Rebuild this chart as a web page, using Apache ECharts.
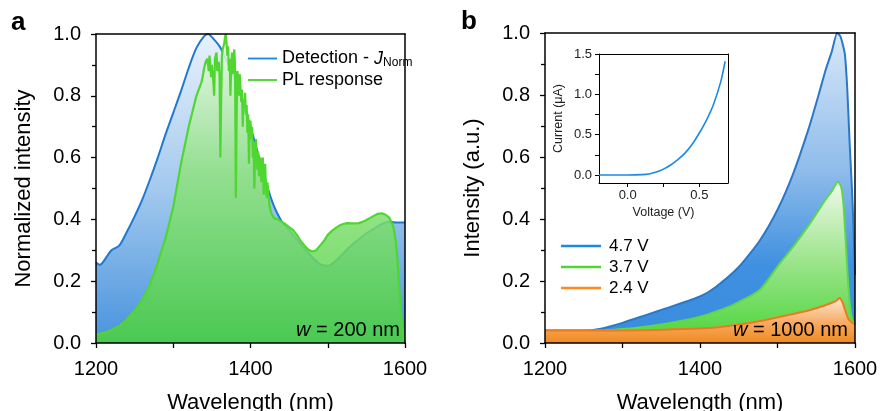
<!DOCTYPE html>
<html><head><meta charset="utf-8">
<script src="https://cdn.jsdelivr.net/npm/echarts@6/dist/echarts.min.js"></script>
<style>html,body{margin:0;padding:0;background:#fff}#c{width:880px;height:411px}</style>
</head><body><div id="c"></div>
<script>
// ---------- Panel a ----------
const detWl  = [1200,1205,1210,1220,1230,1240,1250,1260,1270,1280,1290,1300,1310,1320,1330,1340,1345,1350,1360,1370,1380,1390,1400,1410,1420,1430,1440,1450,1460,1470,1480,1490,1500,1510,1520,1530,1540,1550,1560,1570,1580,1590,1600];
const detVal = [0.26,0.253,0.265,0.30,0.315,0.36,0.41,0.465,0.53,0.60,0.675,0.745,0.815,0.89,0.955,0.993,1.0,0.99,0.96,0.91,0.85,0.78,0.70,0.61,0.52,0.445,0.395,0.365,0.335,0.305,0.278,0.255,0.25,0.265,0.29,0.315,0.335,0.355,0.37,0.385,0.392,0.39,0.39];

const plWl  = [1200,1210,1220,1230,1240,1250,1260,1270,1280,1290,1300,1310,1320,1330,1336,
  1338,1340,1342,1344,1346,1347,1349,1350,1352,1353,1354,1356,1357,1359,1360,1361,1362,1363,1364,1366,1367,1368,1369,1370,
  1371,1372,1373,1374,1375,1376,1377,1378,1379,1380,1381,1382,1383,1384,1385,1386,1387,1388,1389,1390,
  1391,1392,1393,1394,1395,1396,1397,1398,1399,1400,1401,1402,1403,1404,1405,1406,1407,1408,1409,1410,
  1411,1412,1413,1414,1415,1416,1417,1418,1419,1420,1421,1422,1423,1424,1425,1427,1430,
  1435,1440,1445,1450,1455,1460,1465,1470,1475,1480,1485,1490,1495,1500,1505,1510,1515,1520,1525,1530,1535,1540,1545,1550,1555,1560,1565,1570,1575,1580,1585,1588,1590,1592,1594,1596,1598,1600];
const plVal = [0.027,0.033,0.042,0.055,0.076,0.105,0.14,0.19,0.26,0.34,0.44,0.58,0.70,0.80,0.84,
  0.86,0.89,0.91,0.92,0.88,0.93,0.86,0.90,0.84,0.80,0.92,0.94,0.88,0.91,0.86,0.60,0.78,0.93,0.95,0.97,0.99,1.00,0.97,0.93,
  0.96,0.88,0.92,0.80,0.90,0.94,0.87,0.92,0.95,0.90,0.47,0.72,0.88,0.86,0.80,0.87,0.83,0.78,0.82,0.70,
  0.79,0.76,0.81,0.74,0.77,0.68,0.74,0.58,0.70,0.72,0.66,0.70,0.60,0.65,0.50,0.62,0.66,0.60,0.56,0.62,
  0.54,0.58,0.60,0.52,0.57,0.60,0.48,0.55,0.58,0.50,0.47,0.52,0.48,0.46,0.44,0.42,0.405,
  0.40,0.393,0.385,0.375,0.366,0.35,0.33,0.315,0.302,0.296,0.30,0.315,0.33,0.35,0.362,0.372,0.38,0.385,0.388,0.387,0.387,0.388,0.392,0.398,0.405,0.412,0.418,0.42,0.415,0.405,0.376,0.33,0.279,0.2,0.12,0.06,0.02,0.0];

// ---------- Panel b ----------
const b47Wl  = [1200,1250,1270,1300,1330,1360,1400,1420,1450,1477,1500,1520,1540,1553,1562,1570,1577,1581,1584,1587,1590,1593,1596,1598,1600];
const b47Val = [0.04,0.04,0.045,0.065,0.09,0.115,0.15,0.18,0.245,0.33,0.43,0.545,0.69,0.80,0.88,0.94,1.0,0.99,0.965,0.93,0.82,0.65,0.5,0.38,0.22];
const b37Wl  = [1200,1260,1300,1350,1400,1440,1477,1503,1520,1542,1560,1570,1578,1582,1585,1588,1591,1594,1597,1600];
const b37Val = [0.04,0.04,0.045,0.06,0.085,0.12,0.171,0.257,0.31,0.386,0.455,0.49,0.52,0.505,0.45,0.33,0.2,0.11,0.07,0.06];
const b24Wl  = [1200,1300,1380,1420,1450,1480,1510,1540,1560,1575,1580,1584,1588,1592,1600];
const b24Val = [0.04,0.04,0.045,0.05,0.06,0.072,0.088,0.105,0.12,0.135,0.145,0.13,0.10,0.075,0.06];

// ---------- Inset ----------
const ivVolt = [-0.2,-0.1,0,0.1,0.15,0.2,0.25,0.3,0.35,0.4,0.45,0.5,0.55,0.6,0.65,0.68];
const ivCurr = [0,0,0,0.004,0.012,0.035,0.072,0.123,0.19,0.27,0.38,0.52,0.68,0.88,1.16,1.41];

// ---------- Ticks / labels ----------
const insetXTicks = [0,0.25,0.5];
const insetXLabels = [0,0.5];
const insetYTicks = [0,0.25,0.5,0.75,1.0,1.25,1.5];
const insetYLabels = [0,0.5,1.0,1.5];

const FF = '"Liberation Sans", Arial, Helvetica, sans-serif';
const pairs = (xs, ys) => xs.map((x,i)=>[x, ys[i]]);
const grad = (stops) => new echarts.graphic.LinearGradient(0,0,0,1, stops.map(s=>({offset:s[0], color:s[1]})));
const lineIcon = 'path://M0,0L40,0L40,2.6L0,2.6Z';

function mainX(gi, name){
  return [{
    gridIndex: gi, type:'value', min:1200, max:1600, interval:200, z:10,
    axisLine:{onZero:false, lineStyle:{color:'#000', width:1.5}},
    axisTick:{length:5, lineStyle:{color:'#000', width:1.3}},
    minorTick:{show:true, splitNumber:2, length:5, lineStyle:{color:'#000', width:1.3}},
    splitLine:{show:false},
    axisLabel:{fontSize:20, color:'#000', fontFamily:FF, margin:16, formatter:v=>String(v)},
    name:name, nameLocation:'middle', nameGap:49,
    nameTextStyle:{fontSize:22, color:'#000', fontFamily:FF}
  },{
    gridIndex: gi, type:'value', min:1200, max:1600, position:'top', z:10,
    axisLine:{onZero:false, lineStyle:{color:'#000', width:1.5}},
    axisTick:{show:false}, axisLabel:{show:false}, splitLine:{show:false}
  }];
}
function mainY(gi, name){
  return [{
    gridIndex: gi, type:'value', min:0, max:1, interval:0.2, z:10,
    axisLine:{onZero:false, lineStyle:{color:'#000', width:1.5}},
    axisTick:{length:5, lineStyle:{color:'#000', width:1.3}},
    minorTick:{show:true, splitNumber:2, length:4, lineStyle:{color:'#000', width:1.3}},
    splitLine:{show:false},
    axisLabel:{fontSize:20, color:'#000', fontFamily:FF, margin:15, formatter:v=>v.toFixed(1)},
    name:name, nameLocation:'middle', nameGap:61,
    nameTextStyle:{fontSize:22, color:'#000', fontFamily:FF}
  },{
    gridIndex: gi, type:'value', min:0, max:1, position:'right', z:10,
    axisLine:{onZero:false, lineStyle:{color:'#000', width:1.5}},
    axisTick:{show:false}, axisLabel:{show:false}, splitLine:{show:false}
  }];
}

const xAxes = [...mainX(0,'Wavelength (nm)'), ...mainX(1,'Wavelength (nm)'),
  { gridIndex:2, type:'value', min:-0.2, max:0.7, z:20,
    axisLine:{onZero:false, lineStyle:{color:'#000', width:1}},
    axisTick:{customValues:insetXTicks, length:4, lineStyle:{color:'#000', width:1}},
    axisLabel:{customValues:insetXLabels, fontSize:13, color:'#222', fontFamily:FF, margin:6, formatter:v=>v.toFixed(1)},
    splitLine:{show:false},
    name:'Voltage (V)', nameLocation:'middle', nameGap:23,
    nameTextStyle:{fontSize:12.5, color:'#222', fontFamily:FF} },
  { gridIndex:2, type:'value', min:-0.2, max:0.7, position:'top', z:20,
    axisLine:{onZero:false, lineStyle:{color:'#000', width:1}},
    axisTick:{show:false}, axisLabel:{show:false}, splitLine:{show:false} }
];
const yAxes = [...mainY(0,'Normalized intensity'), ...mainY(1,'Intensity (a.u.)'),
  { gridIndex:2, type:'value', min:-0.1, max:1.5, z:20,
    axisLine:{onZero:false, lineStyle:{color:'#000', width:1}},
    axisTick:{customValues:insetYTicks, length:4, lineStyle:{color:'#000', width:1}},
    axisLabel:{customValues:insetYLabels, fontSize:13, color:'#222', fontFamily:FF, margin:7, formatter:v=>v.toFixed(1)},
    splitLine:{show:false},
    name:'Current (\u03bcA)', nameLocation:'middle', nameGap:34,
    nameTextStyle:{fontSize:12.5, color:'#222', fontFamily:FF} },
  { gridIndex:2, type:'value', min:-0.1, max:1.5, position:'right', z:20,
    axisLine:{onZero:false, lineStyle:{color:'#000', width:1}},
    axisTick:{show:false}, axisLabel:{show:false}, splitLine:{show:false} }
];

const option = {
  animation:false,
  backgroundColor:'#fff',
  textStyle:{fontFamily:FF},
  grid:[
    {left:96, top:34, width:309, height:309, outerBoundsMode:'none', containLabel:false},
    {left:545, top:33, width:310, height:310, outerBoundsMode:'none', containLabel:false},
    {left:599, top:54, width:129, height:129, show:true, backgroundColor:'#fff', borderWidth:0, z:15, outerBoundsMode:'none', containLabel:false}
  ],
  xAxis:xAxes,
  yAxis:yAxes,
  legend:[
    { data:['Detection','PL response'], orient:'vertical', left:248, top:48, padding:0, itemWidth:29, itemHeight:2.6, itemGap:2, icon:lineIcon,
      formatter:n => n==='Detection' ? '{t|Detection - }{i|J}{s|Norm}' : '{t|PL response}',
      textStyle:{color:'#000', fontFamily:FF, fontSize:18,
        rich:{ t:{fontSize:18, fontFamily:FF, color:'#000', lineHeight:20},
               i:{fontSize:18, fontFamily:FF, color:'#000', fontStyle:'italic', lineHeight:20},
               s:{fontSize:12, fontFamily:FF, color:'#000', lineHeight:20, padding:[9,0,0,0]} } } },
    { data:['4.7 V','3.7 V','2.4 V'], orient:'vertical', left:561, top:236, padding:0, itemWidth:40, itemHeight:2.6, itemGap:1, icon:lineIcon,
      textStyle:{color:'#000', fontFamily:FF, fontSize:17, lineHeight:20, padding:[0,0,0,3]} }
  ],
  series:[
    { name:'Detection', type:'line', xAxisIndex:0, yAxisIndex:0, data:pairs(detWl, detVal),
      symbol:'none', smooth:0.3, color:'#1e88e5', itemStyle:{color:'#1e88e5'},
      lineStyle:{color:'#1f78d1', width:2},
      areaStyle:{opacity:1, color:grad([[0,'#e8f1fb'],[0.5,'#a3c9ee'],[1,'#4893de']])}, z:2 },
    { name:'PL response', type:'line', xAxisIndex:0, yAxisIndex:0, data:pairs(plWl, plVal),
      symbol:'none', color:'#4fd631', itemStyle:{color:'#4fd631'},
      lineStyle:{color:'#4fd631', width:2.2},
      areaStyle:{opacity:0.85, color:grad([[0,'#eefaea'],[0.45,'#8fe27f'],[1,'#4bd23a']])}, z:3 },
    { name:'4.7 V', type:'line', xAxisIndex:2, yAxisIndex:2, data:pairs(b47Wl, b47Val),
      symbol:'none', smooth:0.2, color:'#1e88e5', itemStyle:{color:'#1e88e5'},
      lineStyle:{color:'#2a78c8', width:2},
      areaStyle:{opacity:1, color:grad([[0,'#d8e8f8'],[0.45,'#8dbbea'],[0.75,'#3f90e0'],[1,'#3a8cde']])}, z:2 },
    { name:'3.7 V', type:'line', xAxisIndex:2, yAxisIndex:2, data:pairs(b37Wl, b37Val),
      symbol:'none', smooth:0.2, color:'#4fd631', itemStyle:{color:'#4fd631'},
      lineStyle:{color:'#5cd84a', width:2},
      areaStyle:{opacity:1, color:grad([[0,'#f0f9ea'],[0.5,'#9be48a'],[1,'#4bd53a']])}, z:3 },
    { name:'2.4 V', type:'line', xAxisIndex:2, yAxisIndex:2, data:pairs(b24Wl, b24Val),
      symbol:'none', smooth:0.2, color:'#ff8a1e', itemStyle:{color:'#ff8a1e'},
      lineStyle:{color:'#f07a1a', width:2},
      areaStyle:{opacity:1, color:grad([[0,'#fce6d2'],[0.6,'#f7a65a'],[1,'#f08a20']])}, z:4 },
    { name:'IV', type:'line', xAxisIndex:4, yAxisIndex:4, data:pairs(ivVolt, ivCurr),
      symbol:'none', smooth:0.3, color:'#1e88e5',
      lineStyle:{color:'#1e88e5', width:1.6}, z:20 }
  ],
  graphic:[
    { type:'text', left:11, top:10, style:{text:'a', fontSize:26, fontWeight:'bold', fontFamily:FF, fill:'#000'} },
    { type:'text', left:461, top:9, style:{text:'b', fontSize:26, fontWeight:'bold', fontFamily:FF, fill:'#000'} },
    { type:'text', x:400, y:330, z:100, style:{text:'{i|w} = 200 nm', fontSize:20, fontFamily:FF, fill:'#000', align:'right', verticalAlign:'middle',
        rich:{i:{fontStyle:'italic', fontSize:20, fontFamily:FF, fill:'#000'}}} },
    { type:'text', x:848, y:330, z:100, style:{text:'{i|w} = 1000 nm', fontSize:20, fontFamily:FF, fill:'#000', align:'right', verticalAlign:'middle',
        rich:{i:{fontStyle:'italic', fontSize:20, fontFamily:FF, fill:'#000'}}} }
  ]
};
const chart = echarts.init(document.getElementById('c'), null, {renderer:'canvas'});
chart.setOption(option);
</script></body></html>
